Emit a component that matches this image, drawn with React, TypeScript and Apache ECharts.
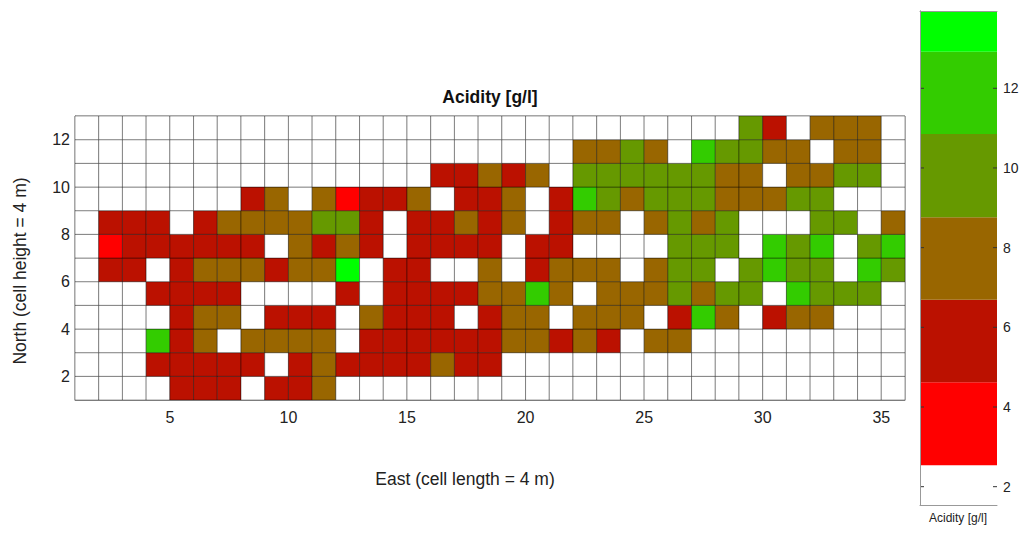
import React, { useEffect, useRef } from "react";
import * as echarts from "echarts";

// Colour classes of the acidity scale (white, red, dark red, brown, olive, green, bright green)
const colorList = ["#ffffff", "#ff0000", "#bb1100", "#996600", "#669900", "#33cc00", "#00ff00"];
// Class boundaries [g/l]
const colorBounds = [1.54, 2.54, 4.62, 6.69, 8.76, 10.85, 12.92, 13.94];
// Representative acidity value of each class [g/l]
const classValue = [2.0, 3.6, 5.65, 7.7, 9.8, 11.9, 13.4];

const xTicks = [5, 10, 15, 20, 25, 30, 35];
const yTicks = [2, 4, 6, 8, 10, 12];
const barTicks = [2, 4, 6, 8, 10, 12];

// Class index per cell, columns East 1..35; each row named by its southern edge (North)
const row12 = [0,0,0,0,0,0,0,0,0,0,0,0,0,0,0,0,0,0,0,0,0,0,0,0,0,0,0,0,4,2,0,3,3,3,0];
const row11 = [0,0,0,0,0,0,0,0,0,0,0,0,0,0,0,0,0,0,0,0,0,3,3,4,3,0,5,4,4,3,3,0,3,3,0];
const row10 = [0,0,0,0,0,0,0,0,0,0,0,0,0,0,0,2,2,3,2,3,0,4,4,4,4,4,4,3,3,0,3,3,4,4,0];
const row9  = [0,0,0,0,0,0,0,2,3,0,3,1,2,2,3,0,2,2,3,0,2,5,4,3,4,4,4,3,3,3,4,4,0,0,0];
const row8  = [0,2,2,2,0,2,3,3,3,3,4,4,2,0,2,2,3,2,3,0,2,3,3,0,3,4,3,4,0,0,0,4,4,0,3];
const row7  = [0,1,2,2,2,2,2,2,0,3,2,3,2,0,2,2,2,2,0,2,2,0,0,0,0,4,4,4,0,5,4,5,0,4,5];
const row6  = [0,2,2,0,2,3,3,3,2,3,3,6,0,2,2,0,0,3,0,2,3,3,3,0,3,4,4,0,4,5,4,4,0,5,4];
const row5  = [0,0,0,2,2,2,2,0,0,0,0,2,0,2,2,2,2,3,3,5,3,0,3,3,3,4,3,4,4,0,5,4,4,4,0];
const row4  = [0,0,0,0,2,3,3,0,2,2,2,0,3,2,2,2,0,2,3,3,0,3,3,3,0,2,5,3,0,2,3,3,0,0,0];
const row3  = [0,0,0,5,2,3,0,3,3,3,3,0,2,2,2,2,2,2,3,3,2,3,2,0,3,3,0,0,0,0,0,0,0,0,0];
const row2  = [0,0,0,2,2,2,2,2,0,2,3,2,2,2,2,3,2,2,0,0,0,0,0,0,0,0,0,0,0,0,0,0,0,0,0];
const row1  = [0,0,0,0,2,2,2,0,2,2,3,0,0,0,0,0,0,0,0,0,0,0,0,0,0,0,0,0,0,0,0,0,0,0,0];

const rows = [row1, row2, row3, row4, row5, row6, row7, row8, row9, row10, row11, row12];

const FONT = "Liberation Sans, Arial, sans-serif";

export default function App() {
  const ref = useRef<HTMLDivElement>(null);

  useEffect(() => {
    if (!ref.current) return;
    const chart = echarts.init(ref.current, null, { renderer: "svg" });

    const cells: number[][] = [];
    rows.forEach((row, ri) =>
      row.forEach((code, ci) => cells.push([ci + 1, ri + 1, classValue[code]]))
    );
    const barData = colorList.map((_, i) => [0, colorBounds[i], colorBounds[i + 1], i]);
    const tickData = barTicks.map((v) => [0, v]);

    const pieces = colorList.map((c, i) => ({
      gte: colorBounds[i],
      lt: colorBounds[i + 1],
      color: c,
    }));

    const hiddenAxis = {
      axisTick: { show: false },
      axisLabel: { show: false },
      splitLine: { show: false },
    };

    const option: any = {
      animation: false,
      backgroundColor: "#ffffff",
      textStyle: { fontFamily: FONT },
      grid: [
        { left: 75, top: 116, width: 830, height: 284, show: true, borderColor: "#999", borderWidth: 1 },
        { left: 920, top: 11, width: 77, height: 494 },
      ],
      visualMap: {
        type: "piecewise",
        show: false,
        dimension: 2,
        seriesIndex: 0,
        pieces,
      },
      xAxis: [
        {
          gridIndex: 0,
          type: "value",
          min: 1,
          max: 36,
          axisLine: { show: true, lineStyle: { color: "#999" } },
          axisTick: { show: false },
          splitLine: { show: false },
          axisLabel: { customValues: xTicks, fontSize: 16, color: "#222", margin: 9, fontFamily: FONT },
        },
        {
          gridIndex: 1,
          type: "value",
          position: "bottom",
          min: 0,
          max: 1,
          z: 10,
          axisLine: { show: true, lineStyle: { color: "#999" } },
          ...hiddenAxis,
        },
        {
          gridIndex: 1,
          type: "value",
          position: "top",
          min: 0,
          max: 1,
          z: 10,
          axisLine: { show: true, lineStyle: { color: "#999" } },
          ...hiddenAxis,
        },
      ],
      yAxis: [
        {
          gridIndex: 0,
          type: "value",
          min: 1,
          max: 13,
          axisLine: { show: true, lineStyle: { color: "#999" } },
          axisTick: { show: false },
          splitLine: { show: false },
          axisLabel: { customValues: yTicks, fontSize: 16, color: "#222", margin: 5, fontFamily: FONT },
        },
        {
          gridIndex: 1,
          type: "value",
          position: "right",
          min: colorBounds[0],
          max: colorBounds[colorBounds.length - 1],
          z: 10,
          axisLine: { show: true, lineStyle: { color: "#999" } },
          axisTick: { show: false },
          splitLine: { show: false },
          axisLabel: { customValues: barTicks, fontSize: 14, color: "#222", margin: 6, fontFamily: FONT },
        },
        {
          gridIndex: 1,
          type: "value",
          position: "left",
          min: colorBounds[0],
          max: colorBounds[colorBounds.length - 1],
          z: 10,
          axisLine: { show: true, lineStyle: { color: "#999" } },
          ...hiddenAxis,
        },
      ],
      series: [
        {
          type: "custom",
          xAxisIndex: 0,
          yAxisIndex: 0,
          data: cells,
          encode: { x: 0, y: 1 },
          renderItem: (_p: any, api: any) => {
            const x = api.value(0);
            const y = api.value(1);
            const a = api.coord([x, y + 1]);
            const b = api.coord([x + 1, y]);
            return {
              type: "rect",
              shape: { x: a[0], y: a[1], width: b[0] - a[0], height: b[1] - a[1] },
              style: { fill: api.visual("color"), stroke: "rgba(0,0,0,0.38)", lineWidth: 1 },
            };
          },
        },
        {
          type: "custom",
          xAxisIndex: 1,
          yAxisIndex: 1,
          data: barData,
          encode: { x: 0, y: [1, 2] },
          renderItem: (_p: any, api: any) => {
            const lo = api.value(1);
            const hi = api.value(2);
            const idx = api.value(3);
            const a = api.coord([0, hi]);
            const b = api.coord([1, lo]);
            return {
              type: "rect",
              shape: { x: a[0], y: a[1], width: b[0] - a[0], height: b[1] - a[1] },
              style: { fill: colorList[idx], stroke: null },
            };
          },
        },
        {
          type: "custom",
          xAxisIndex: 1,
          yAxisIndex: 1,
          z: 5,
          data: tickData,
          encode: { x: 0, y: 1 },
          renderItem: (_p: any, api: any) => {
            const v = api.value(1);
            const l = api.coord([0, v]);
            const r = api.coord([1, v]);
            const st = { stroke: "#333", lineWidth: 1 };
            return {
              type: "group",
              children: [
                { type: "line", shape: { x1: l[0], y1: l[1], x2: l[0] + 4, y2: l[1] }, style: st },
                { type: "line", shape: { x1: r[0] - 4, y1: r[1], x2: r[0], y2: r[1] }, style: st },
              ],
            };
          },
        },
      ],
      graphic: [
        {
          type: "text",
          x: 490,
          y: 97,
          style: {
            text: "Acidity [g/l]",
            fontFamily: FONT,
            fontSize: 17.5,
            fontWeight: "bold",
            fill: "#111",
            textAlign: "center",
            textVerticalAlign: "middle",
          },
        },
        {
          type: "text",
          x: 465,
          y: 479,
          style: {
            text: "East (cell length = 4 m)",
            fontFamily: FONT,
            fontSize: 17.5,
            fill: "#222",
            textAlign: "center",
            textVerticalAlign: "middle",
          },
        },
        {
          type: "text",
          x: 20,
          y: 271,
          rotation: Math.PI / 2,
          style: {
            text: "North (cell height = 4 m)",
            fontFamily: FONT,
            fontSize: 17.5,
            fill: "#222",
            textAlign: "center",
            textVerticalAlign: "middle",
          },
        },
        {
          type: "text",
          x: 958,
          y: 518,
          style: {
            text: "Acidity [g/l]",
            fontFamily: FONT,
            fontSize: 12,
            fill: "#222",
            textAlign: "center",
            textVerticalAlign: "middle",
          },
        },
      ],
    };

    chart.setOption(option);
    return () => chart.dispose();
  }, []);

  return (
    <div
      ref={ref}
      style={{ position: "absolute", left: 0, top: 0, width: 1024, height: 535 }}
    />
  );
}
